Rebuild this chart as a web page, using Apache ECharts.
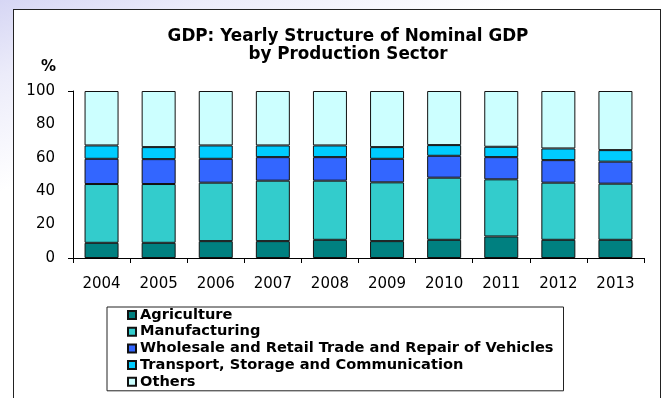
<!DOCTYPE html>
<html>
<head>
<meta charset="utf-8">
<title>GDP structure</title>
<script src="https://cdn.jsdelivr.net/npm/echarts@6/dist/echarts.min.js"></script>
<style>
html, body {
  margin: 0;
  padding: 0;
}
body {
  width: 664px;
  height: 398px;
  overflow: hidden;
  background: linear-gradient(160deg, #d6d6f4 0%, #ececfa 12%, #ffffff 30%);
  position: relative;
}
#frame {
  position: absolute;
  left: 13px;
  top: 9px;
  width: 646px;
  height: 400px;
  border: 1.5px solid #222;
  background: #fff;
}
#main {
  position: absolute;
  left: 0;
  top: 0;
  width: 664px;
  height: 398px;
}
</style>
</head>
<body>
<div id="frame"></div>
<div id="main"></div>
<script>
var years = ['2004', '2005', '2006', '2007', '2008', '2009', '2010', '2011', '2012', '2013'];
var sectorNames = ['Agriculture', 'Manufacturing', 'Wholesale and Retail Trade and Repair of Vehicles', 'Transport, Storage and Communication', 'Others'];
// share of nominal GDP, %
var agriculture = [9.1, 9.1, 10.1, 10.1, 10.9, 10.1, 10.9, 12.9, 10.9, 10.9];
var manufacturing = [35.2, 35.2, 35.0, 36.2, 35.4, 35.2, 37.2, 34.2, 34.2, 33.6];
var wholesale = [15.1, 14.9, 14.3, 14.1, 14.1, 14.1, 13.1, 13.3, 13.5, 13.2];
var transport = [8.0, 7.2, 8.0, 7.0, 7.0, 7.0, 6.4, 6.2, 7.0, 6.9];
var others = [32.6, 33.6, 32.6, 32.6, 32.6, 33.6, 32.4, 33.4, 34.4, 35.4];
var yTicks = [0, 20, 40, 60, 80, 100];

var sectorData = [agriculture, manufacturing, wholesale, transport, others];
var sectorColors = ['#008080', '#33cccc', '#3366ff', '#00ccff', '#ccffff'];
var font = 'DejaVu Sans, Liberation Sans, sans-serif';

var chart = echarts.init(document.getElementById('main'));

var series = sectorNames.map(function(name, i) {
  return {
    name: name,
    type: 'bar',
    stack: 'gdp',
    barWidth: 34,
    data: sectorData[i],
    itemStyle: {
      color: sectorColors[i],
      borderColor: '#111',
      borderWidth: 1
    }
  };
});

chart.setOption({
  backgroundColor: 'transparent',
  animation: false,
  textStyle: { fontFamily: font },
  title: {
    text: 'GDP: Yearly Structure of Nominal GDP\nby Production Sector',
    left: 343,
    top: 23,
    textAlign: 'center',
    textStyle: {
      fontFamily: font,
      fontSize: 16.8,
      fontWeight: 'bold',
      color: '#000',
      lineHeight: 18
    }
  },
  legend: {
    orient: 'vertical',
    left: 107,
    top: 307,
    padding: [0, 10, 1, 20],
    itemGap: 0.7,
    itemWidth: 8,
    itemHeight: 8,
    icon: 'rect',
    borderColor: '#222',
    borderWidth: 1,
    data: sectorNames,
    textStyle: {
      fontFamily: font,
      fontSize: 14.6,
      fontWeight: 'bold',
      color: '#000',
      lineHeight: 16,
      padding: [0, 0, 0, -1]
    }
  },
  grid: {
    left: 73,
    right: 20,
    top: 91,
    bottom: 140
  },
  xAxis: {
    type: 'category',
    data: years,
    axisLine: { lineStyle: { color: '#000', width: 1 } },
    axisTick: { show: true, length: 5, lineStyle: { color: '#000' } },
    axisLabel: { margin: 19, fontSize: 15, color: '#000', fontFamily: font }
  },
  yAxis: {
    type: 'value',
    min: 0,
    max: 100,
    interval: 20,
    name: '%',
    nameLocation: 'end',
    nameGap: 16,
    nameTextStyle: {
      fontFamily: font,
      fontSize: 15,
      fontWeight: 'bold',
      color: '#000',
      align: 'right',
      padding: [0, 17, 0, 0]
    },
    axisLine: { show: true, lineStyle: { color: '#000', width: 1 } },
    axisTick: { show: true, length: 5, customValues: [0, 100], lineStyle: { color: '#000' } },
    axisLabel: { margin: 18, fontSize: 15, color: '#000', fontFamily: font, customValues: yTicks },
    splitLine: { show: false }
  },
  series: series
});
</script>
</body>
</html>
